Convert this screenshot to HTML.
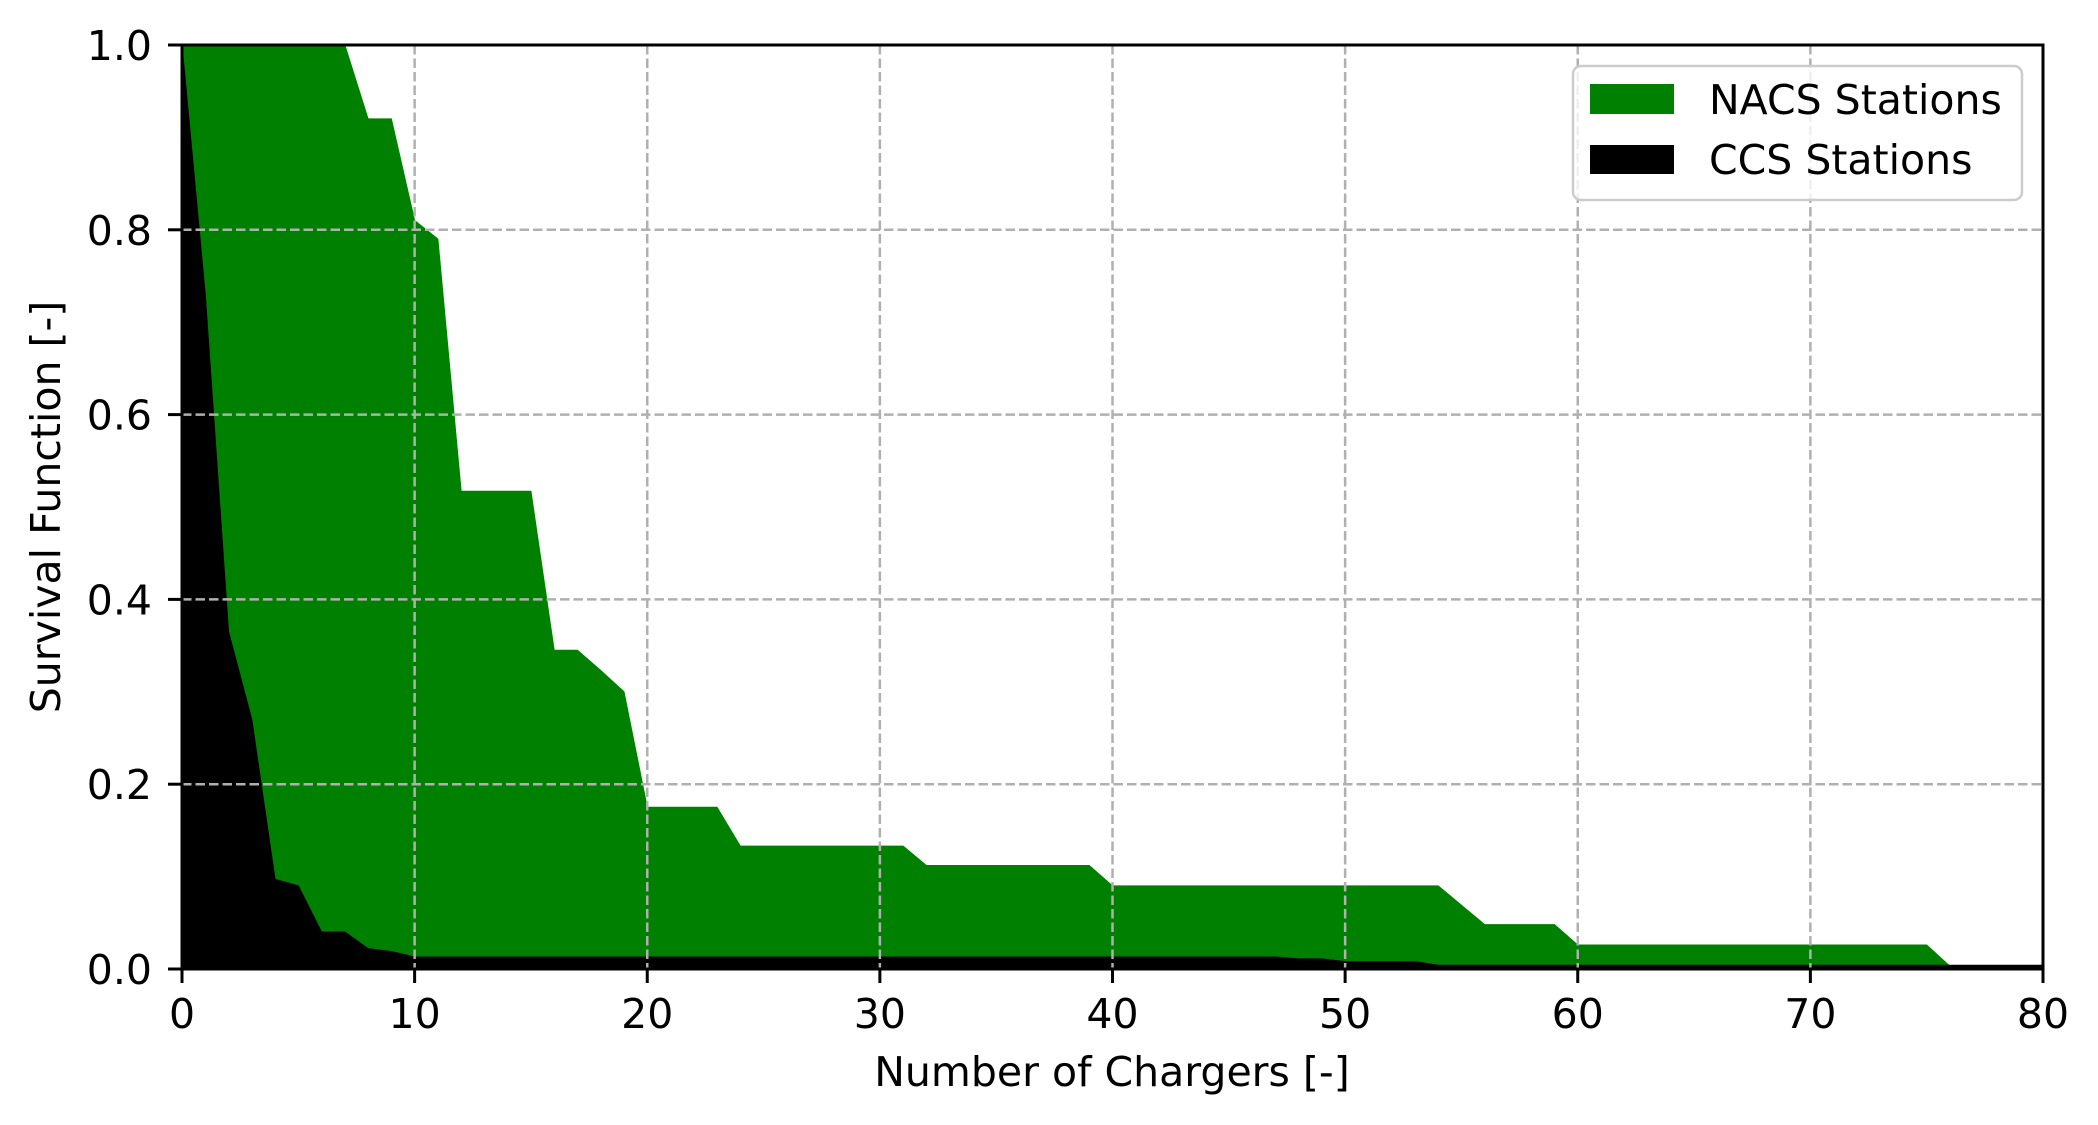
<!DOCTYPE html>
<html><head><meta charset="utf-8">
<style>
html,body{margin:0;padding:0;background:#fff;}
svg{display:block;font-family:"DejaVu Sans","Liberation Sans",sans-serif;}
</style></head>
<body>
<svg id="chart" width="2098" height="1125" viewBox="0 0 2098 1125" xmlns="http://www.w3.org/2000/svg">
<rect width="2098" height="1125" fill="#fff"/>
<g id="fills"></g>
<g id="grid"></g>
<g id="axes"></g>
<g id="legend">
  <rect x="1573" y="66" width="449" height="134" rx="8" fill="#fff" fill-opacity="0.8" stroke="#cccccc" stroke-width="2.5"/>
  <rect x="1590" y="84" width="84" height="30" fill="#008000"/>
  <text x="1709" y="114" font-size="41" fill="#000">NACS Stations</text>
  <rect x="1590" y="145" width="84" height="29" fill="#000"/>
  <text x="1709" y="174" font-size="41" fill="#000">CCS Stations</text>
</g>
<text x="1112" y="1086" font-size="41" text-anchor="middle">Number of Chargers [-]</text>
<text transform="translate(60,507) rotate(-90)" font-size="41" text-anchor="middle">Survival Function [-]</text>
</svg>
<script>
const chargers = [0,1,2,3,4,5,6,7,8,9,10,11,12,13,14,15,16,17,18,19,20,21,22,23,24,25,26,27,28,29,30,31,32,33,34,35,36,37,38,39,40,41,42,43,44,45,46,47,48,49,50,51,52,53,54,55,56,57,58,59,60,61,62,63,64,65,66,67,68,69,70,71,72,73,74,75,76,77,78,79,80];
const nacsSurvival = [1,1,1,1,1,1,1,1,0.92,0.92,0.81,0.79,0.517,0.517,0.517,0.517,0.345,0.345,0.323,0.30,0.175,0.175,0.175,0.175,0.133,0.133,0.133,0.133,0.133,0.133,0.133,0.133,0.112,0.112,0.112,0.112,0.112,0.112,0.112,0.112,0.09,0.09,0.09,0.09,0.09,0.09,0.09,0.09,0.09,0.09,0.09,0.09,0.09,0.09,0.09,0.069,0.048,0.048,0.048,0.048,0.026,0.026,0.026,0.026,0.026,0.026,0.026,0.026,0.026,0.026,0.026,0.026,0.026,0.026,0.026,0.026,0.003,0.003,0.003,0.003,0.003];
const ccsSurvival = [1,0.73,0.365,0.27,0.097,0.09,0.04,0.04,0.022,0.019,0.013,0.013,0.013,0.013,0.013,0.013,0.013,0.013,0.013,0.013,0.013,0.013,0.013,0.013,0.013,0.013,0.013,0.013,0.013,0.013,0.013,0.013,0.013,0.013,0.013,0.013,0.013,0.013,0.013,0.013,0.013,0.013,0.013,0.013,0.013,0.013,0.013,0.013,0.011,0.011,0.008,0.008,0.008,0.008,0.004,0.004,0.004,0.004,0.004,0.004,0.004,0.004,0.004,0.004,0.004,0.004,0.004,0.004,0.004,0.004,0.004,0.004,0.004,0.004,0.004,0.004,0.004,0.004,0.004,0.004,0.004];
const xTicks = [0,10,20,30,40,50,60,70,80];
const yTicks = [0,0.2,0.4,0.6,0.8,1.0];
const yTickLabels = ["0.0","0.2","0.4","0.6","0.8","1.0"];

const L=182, R=2043, T=45, B=969;
const xMax=80;
function xs(v){return L+(v/xMax)*(R-L);}
function ys(v){return B-v*(B-T);}
const NS="http://www.w3.org/2000/svg";
function mk(tag,attrs,parent){const e=document.createElementNS(NS,tag);for(const k in attrs)e.setAttribute(k,attrs[k]);parent.appendChild(e);return e;}

const fills=document.getElementById('fills');
function area(vals,color,name){
  let d='M'+xs(chargers[0])+','+ys(0);
  for(let i=0;i<chargers.length;i++) d+=' L'+xs(chargers[i]).toFixed(2)+','+ys(vals[i]).toFixed(2);
  d+=' L'+xs(chargers[chargers.length-1])+','+ys(0)+' Z';
  const p=mk('path',{d:d,fill:color,stroke:color,'stroke-width':1},fills);
  
  
}
area(nacsSurvival,'#008000','nacs-area');
area(ccsSurvival,'#000000','ccs-area');

const grid=document.getElementById('grid');
xTicks.forEach(t=>{
  const l=mk('line',{x1:xs(t),x2:xs(t),y1:T,y2:B,stroke:'#b0b0b0','stroke-width':2.5,'stroke-dasharray':'9.5,4'},grid);
  
  
});
yTicks.forEach(t=>{
  const l=mk('line',{x1:L,x2:R,y1:ys(t),y2:ys(t),stroke:'#b0b0b0','stroke-width':2.5,'stroke-dasharray':'9.5,4'},grid);
  
  
});

const axes=document.getElementById('axes');
const frame=mk('rect',{x:L,y:T,width:R-L,height:B-T,fill:'none',stroke:'#000','stroke-width':3},axes);


xTicks.forEach(t=>{
  const tk=mk('line',{x1:xs(t),x2:xs(t),y1:B,y2:B+14,stroke:'#000','stroke-width':3},axes);
  
  
  const tx=mk('text',{x:xs(t),y:1028,'font-size':41,'text-anchor':'middle'},axes);
  tx.textContent=String(t);
  
  
});
yTicks.forEach((t,i)=>{
  const tk=mk('line',{x1:L-14,x2:L,y1:ys(t),y2:ys(t),stroke:'#000','stroke-width':3},axes);
  
  
  const tx=mk('text',{x:L-30,y:ys(t)+15,'font-size':41,'text-anchor':'end'},axes);
  tx.textContent=yTickLabels[i];
  
  
});
</script>
</body></html>
